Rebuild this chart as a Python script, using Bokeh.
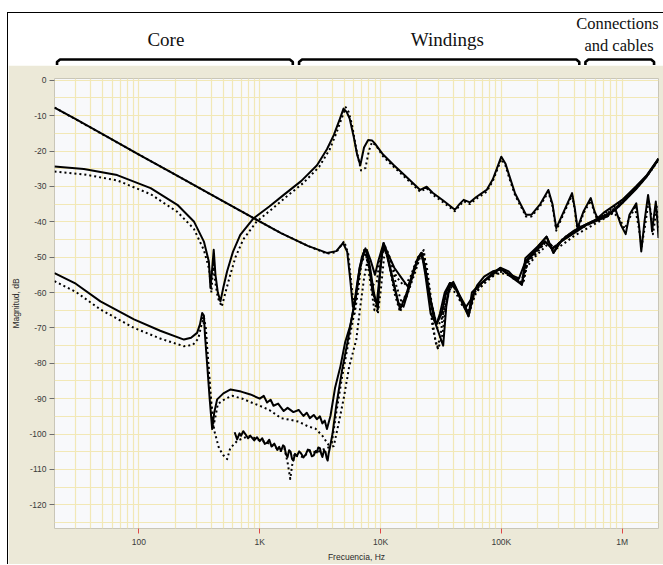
import numpy as np
from bokeh.plotting import figure
from bokeh.layouts import column
from bokeh.models import Range1d, FixedTicker, Label
from bokeh.embed import file_html
from bokeh.resources import INLINE

# ---- measured transfer functions (frequency in Hz, magnitude in dB) ----
a_solid_f = [20, 30, 50, 100, 200, 400, 891, 1500, 2500, 3600, 4300, 4900, 5300, 5600, 5900,
             6200, 6700, 7300, 7700, 8300, 9000, 9600, 10600, 11500, 13000, 15000, 16800, 18500,
             20500, 21900, 23500, 26000, 29000, 32000, 35000, 37500, 41000, 46000, 53500, 60000,
             70000, 85000, 98000, 115000, 130000, 148000, 160000, 190000, 237000, 270000, 300000,
             380000, 500000, 750000, 1000000, 1300000, 1600000, 2000000]
a_solid_db = [-7.7, -11.0, -15.2, -21.0, -26.7, -32.4, -39.0, -43.2, -46.8, -48.8, -48.3, -46.0, -48.5, -56, -64,
              -62, -53, -48.5, -48, -51, -55, -51, -46, -49, -53, -56, -58.3, -55,
              -50, -48.8, -53, -62, -69, -66, -60, -57.3, -58, -62, -66.7, -59.5,
              -57, -54.5, -53, -54, -56, -57.8, -51, -48, -44.2, -48.8, -46,
              -43.7, -41, -38.5, -34.5, -30.5, -27, -22.1]

a_dot_f = [20, 100, 400, 891, 1500, 2500, 3600, 4300, 5000, 5400, 5750, 6100, 6500, 6900, 7500,
           8000, 8600, 9300, 10000, 10800, 11800, 13500, 15500, 17500, 20000, 22200, 24000, 26500,
           29500, 32500, 35500, 38000, 42000, 48000, 54000, 61000, 72000, 88000, 100000, 120000,
           140000, 152000, 165000, 200000, 240000, 275000, 320000, 400000, 550000, 800000,
           1050000, 1350000, 1650000, 2000000]
a_dot_db = [-7.7, -21.0, -32.4, -39.0, -43.2, -46.8, -49.0, -48.6, -45.5, -49, -58, -66, -60, -52, -49,
            -52.5, -58, -57, -49, -46.5, -50, -55.5, -58, -56, -50.5, -48.5, -52, -63,
            -70, -67, -61, -58, -59, -63, -66, -60, -57.5, -55, -53.5, -55,
            -56.5, -57.5, -51.5, -48.5, -45, -48, -46.5, -44, -41.3, -38,
            -34, -30, -26.5, -22.3]

b_solid_f = [20, 35, 66, 125, 208, 285, 345, 379, 391, 400, 416, 430, 450, 473, 500, 537, 600, 690,
             891, 1200, 1580, 2200, 2980, 3600, 4100, 4600, 4940, 5250, 5550, 6000, 6400, 6800,
             7300, 7900, 8500, 9000, 10500, 12900, 16000, 21300, 24100, 27000, 33000, 41300,
             45000, 48800, 55000, 62000, 75600, 85000, 100000, 108000, 116000, 130000, 160000,
             178000, 210000, 245000, 265000, 285000, 330000, 385000, 405000, 427000, 480000,
             550000, 590000, 625000, 700000, 850000, 1000000, 1300000, 1600000, 2000000]
b_solid_db = [-24.4, -25.1, -26.8, -30.5, -35.2, -39.9, -45.6, -51.2, -58.7, -55, -47.9, -55, -60, -62.5, -58.5, -54, -48.5, -43.7,
              -39, -35.7, -32.4, -28.5, -24, -19.5, -15.5, -11, -8, -9, -10.8, -16, -21, -24,
              -19, -16.9, -17, -17.9, -21, -24, -27, -31, -30.1, -31.8, -34, -36.6,
              -35, -33.8, -34.5, -33, -31, -28, -21.6, -23.5, -26.8, -32, -38,
              -38, -35, -31, -35, -41.8, -37, -31.9, -36, -41.8, -37,
              -33.3, -37, -39, -37.5, -35.5, -33.8, -30, -26.8, -22.1]

b_dot_f = [20, 35, 66, 125, 208, 285, 345, 382, 398, 412, 428, 450, 485, 520, 570, 630, 730, 940,
           1250, 1650, 2300, 3100, 3800, 4300, 4800, 5150, 5450, 5800, 6300, 6900, 7500, 8000,
           8500, 9200, 10500, 12900, 16000, 21300, 24100, 27000, 33000, 41300, 45000, 48800,
           55000, 62000, 75600, 85000, 100000, 108000, 116000, 130000, 160000, 178000, 210000,
           245000, 265000, 285000, 330000, 385000, 405000, 427000, 480000, 550000, 590000,
           625000, 700000, 850000, 1000000, 1300000, 1600000, 2000000]
b_dot_db = [-25.8, -26.6, -28.3, -32.2, -37.2, -42.0, -48.0, -53.5, -60, -52, -57, -61.5, -64, -60, -55, -50, -45, -40,
            -36.5, -33, -29, -24.5, -19.5, -15, -10.5, -7.6, -9, -12.5, -19.5, -25.5, -24.8, -20,
            -17.5, -18.5, -21.5, -24.5, -27.5, -31.5, -30.5, -32.3, -34.5, -37, -35.5, -34.2,
            -35, -33.5, -31.5, -28.5, -22.3, -24, -27.5, -32.5, -38.5, -38.5, -35.5,
            -31.5, -35.5, -42.5, -37.5, -32.5, -36.5, -42.5, -37.5, -34, -37.5,
            -39.5, -38, -36, -34.2, -30.3, -27.1, -22.3]

c_solid_f = [20, 30, 48, 91, 150, 236, 270, 303, 320, 334, 345, 352, 368, 385, 404, 420, 444, 500,
             574, 700, 837, 1000, 1080, 1150, 1230, 1300, 1420, 1580, 1700, 1900, 2100, 2300, 2450,
             2600, 2800, 2970, 3150, 3300, 3450, 3600, 3850, 4200, 4660, 5100, 5600, 6200, 6700,
             7300, 7700, 8200, 8800, 9500, 10000, 10600, 11500, 12800, 14500, 16500, 19000,
             21500, 23000, 25000, 28000, 33000, 35000, 37500, 40000, 44000, 50000, 56000, 63000,
             72000, 85000, 100000, 120000, 140000, 155000, 185000, 230000, 260000, 290000,
             350000, 450000, 600000, 750000, 880000, 980000, 1070000, 1150000, 1310000, 1380000,
             1440000, 1530000, 1640000, 1710000, 1770000, 1840000, 1900000, 1960000, 2000000]
c_solid_db = [-54.5, -57.5, -62.5, -67.6, -70.8, -73.3, -72.8, -71.4, -69, -65.8, -66.5, -72, -80.8, -90, -98.6, -94, -90.2, -88.5,
              -87.4, -88, -88.8, -90, -89.2, -91.1, -90.3, -92, -91.4, -93.5, -92.6, -93.8, -93.2, -94.9, -94,
              -95.5, -94.6, -95.8, -95, -97, -96.2, -98.6, -94.9, -87, -80.8, -74, -69.5, -62, -54,
              -48.5, -48, -53, -60, -64.8, -52, -46, -50, -57, -64.8, -60, -53,
              -49, -52, -60, -68, -75, -64, -57.8, -57, -60, -64.5, -62, -58,
              -55.5, -54, -53.5, -55, -56, -52, -49, -45.5, -47.5, -46.5,
              -44, -41.5, -39.5, -38, -36.5, -41, -43.5, -38, -34.8, -41,
              -48.4, -40, -32.4, -37, -42.7, -38, -34.3, -40, -44.6]

c_dot_f = [20, 30, 48, 91, 150, 236, 280, 310, 330, 345, 358, 375, 392, 410, 425, 450, 520, 590,
           720, 840, 1000, 1200, 1500, 1800, 2100, 2500, 2900, 3300, 3700, 3950, 4300, 4800,
           5300, 5900, 6400, 6900, 7300, 7700, 8300, 8900, 9500, 10200, 10800, 11800, 13000,
           14500, 16500, 19000, 21500, 22500, 24000, 26000, 28500, 30000, 32500, 35000, 38000,
           42000, 48000, 54000, 60000, 70000, 85000, 100000, 125000, 145000, 160000, 195000,
           240000, 280000, 330000, 420000, 550000, 700000, 850000, 950000, 1050000, 1150000,
           1280000, 1380000, 1450000, 1550000, 1660000, 1740000, 1800000, 1880000, 1930000, 2000000]
c_dot_db = [-56.8, -59.8, -64.8, -70, -73, -75.2, -74.8, -73, -69, -67, -70, -80, -90, -98, -96, -91.5, -90, -89.2,
            -90, -91, -92, -93.2, -95.5, -96, -96.5, -97.8, -98.5, -100.5, -103, -102.5, -94, -84,
            -76, -68, -60, -52, -48, -50.5, -58, -65, -62, -50, -47, -52, -60,
            -65.5, -61, -55, -49.5, -48.5, -53, -64, -74, -76, -72, -63, -58.5,
            -59, -63, -65, -60, -57, -55, -54.5, -55.5, -57, -53, -49.5,
            -46.5, -47, -45, -42.5, -40.5, -38.8, -37.5, -39, -42, -39,
            -36, -42, -47, -41, -34, -38, -43.5, -39, -35.5, -42]

d_solid_f = [620, 650, 680, 700, 730, 760, 800, 837, 900, 950, 1000, 1050, 1100, 1150, 1200,
             1250, 1320, 1400, 1450, 1500, 1560, 1600, 1650, 1700, 1750, 1800, 1850, 1900, 1960,
             2030, 2120, 2200, 2300, 2400, 2500, 2600, 2700, 2800, 2900, 2970, 3050, 3150, 3230,
             3300, 3400, 3500, 3580, 3650, 3720, 3800, 4000, 4300, 4800, 5400, 6000, 6500, 7000,
             7500, 8000, 8600, 9300, 10000, 10500, 11200, 12500, 14000, 15500, 17500, 20000,
             21900, 23500, 26000, 29000, 31000, 34000, 37500, 43000, 50000, 53500, 57000, 65000,
             80000, 98000, 120000, 148000, 158000, 200000, 237000, 270000, 320000, 400000,
             520000, 700000, 850000, 1000000, 1300000, 1600000, 2000000]
d_solid_db = [-99.5, -101.5, -99.8, -100.5, -99.2, -100, -101.2, -100.5, -101.8, -100.9, -102, -101.2, -102.8, -102.4, -101.6,
              -103.5, -102.7, -104.5, -103.6, -104.8, -103.2, -103.5, -105.8, -106.5, -104.6, -105, -107, -107.5, -105.6,
              -106.2, -104.9, -105.5, -106.6, -105.8, -104.4, -104.6, -106.3, -106, -104.8, -105.2, -103.8, -104, -105.6,
              -106.5, -104.7, -105, -106.8, -107.5, -105.5, -104, -100, -92, -82, -73, -64, -56, -50,
              -47.5, -52, -60, -63, -53, -47, -49, -56, -63, -64, -58, -51,
              -48.8, -55, -66, -69, -66, -60, -57.3, -59.5, -63.5, -66.7, -60, -58,
              -55.5, -53.1, -55.5, -57.8, -50.3, -47, -44.2, -48.8, -45, -42.5,
              -40.5, -38.5, -37, -34.8, -30.8, -27.2, -22.4]

d_dot_f = [334, 352, 375, 395, 420, 460, 500, 537, 570, 652, 750, 837, 950, 1150, 1300, 1490, 1600,
           1700, 1790, 1850, 1950, 2030, 2300, 2600, 2970, 3300, 3700, 4100, 4500, 4940, 5500,
           6300, 6800, 7300, 7800, 8300, 8900, 9500, 10000, 10700, 11300, 12200, 13500, 15000,
           16500, 19000, 21000, 22800, 24500, 27000, 29500, 31500, 34000, 37000, 42000, 48000,
           55000, 62000, 75000, 90000, 105000, 125000, 150000, 165000, 200000, 240000, 275000,
           330000, 430000, 560000, 720000, 900000, 1100000, 1400000, 1700000, 2000000]
d_dot_db = [-67, -70, -80, -90, -99, -104, -106, -107.1, -104, -101.9, -101, -100.5, -101.5, -102.4, -103.5, -104.8, -104,
            -108, -112.7, -109, -105.5, -106.2, -106.5, -104.8, -105.2, -104.5, -103.8, -103.4, -97, -90.2, -81,
            -73.3, -64, -56, -51, -55, -62, -66, -60, -50, -48, -51, -58, -63,
            -60, -54, -50, -48, -56, -70, -75.5, -72, -62, -59, -60, -64,
            -64.5, -60, -56.5, -54.5, -54, -56, -57, -51.5, -48, -45.5, -47.5,
            -44.5, -42, -40, -38, -35.8, -33, -29.5, -26, -22.6]

# ---- test regions marked above the chart ----
region_names = ["Core", "Windings", "Connections", "and cables"]
region_start = [21, 2200, 540000]
region_end = [1950, 480000, 2020000]
region_label_f = [170, 38000, 1000000, 1030000]

# ---- axis ticks ----
x_ticks = [100, 1000, 10000, 100000, 1000000]
x_tick_labels = ["100", "1K", "10K", "100K", "1M"]
y_ticks = [0, -10, -20, -30, -40, -50, -60, -70, -80, -90, -100, -110, -120]
y_tick_labels = ["0", "-10", "-20", "-30", "-40", "-50", "-60", "-70", "-80", "-90", "-100", "-110", "-120"]

TAN = "#ECE9D8"
PLOT_BG = "#F8F9FB"
GRID = "#F2E8B6"
TICK_FONT = "Liberation Sans"

F_MIN, F_MAX = 20, 2e6
W, H_MAIN, H_HEAD = 655, 499, 52
BORDER_L, BORDER_R = 46, 5

x_range = Range1d(F_MIN, F_MAX)

# ---- main plot ----
p = figure(width=W, height=H_MAIN, x_axis_type="log", x_range=x_range,
           y_range=Range1d(-126.7, 0.5), output_backend="svg", toolbar_location=None,
           min_border_left=BORDER_L, min_border_right=BORDER_R, min_border_top=13, min_border_bottom=35)
p.border_fill_color = TAN
p.background_fill_color = PLOT_BG
p.outline_line_color = "#C9C6B8"
p.outline_line_width = 1

# grid: every 1..9 x decade vertically, every 5 dB horizontally
minor_f = [m * 10.0 ** k for k in range(1, 7) for m in range(1, 10)]
p.xgrid.ticker = FixedTicker(ticks=[f for f in minor_f if F_MIN <= f <= F_MAX])
p.ygrid.ticker = FixedTicker(ticks=list(np.arange(-125, 1, 5)))
for g in (p.xgrid, p.ygrid):
    g.grid_line_color = GRID
    g.grid_line_width = 1.2

p.xaxis.ticker = FixedTicker(ticks=x_ticks)
p.xaxis.major_label_overrides = {t: s for t, s in zip(x_ticks, x_tick_labels)}
p.yaxis.ticker = FixedTicker(ticks=y_ticks)
p.yaxis.major_label_overrides = {t: s for t, s in zip(y_ticks, y_tick_labels)}

for ax in (p.xaxis, p.yaxis):
    ax.axis_line_color = None
    ax.minor_tick_line_color = None
    ax.major_tick_in = 0
    ax.major_label_text_font = TICK_FONT
    ax.major_label_text_font_size = "8.5px"
    ax.major_label_text_color = "#3A3A3A"
    ax.axis_label_text_font = TICK_FONT
    ax.axis_label_text_font_size = "8.5px"
    ax.axis_label_text_font_style = "normal"
    ax.axis_label_text_color = "#2A2A2A"

p.xaxis.major_tick_out = 5
p.xaxis.major_tick_line_color = "#E04848"
p.xaxis.major_label_standoff = 3
p.xaxis.axis_label = "Frecuencia, Hz"
p.xaxis.axis_label_standoff = 2

p.yaxis.major_tick_out = 5
p.yaxis.major_tick_line_color = "#6E6E6E"
p.yaxis.major_label_standoff = 3
p.yaxis.axis_label = "Magnitud, dB"
p.yaxis.axis_label_standoff = 5

traces = [
    (d_dot_f, d_dot_db, "2 3"),
    (c_dot_f, c_dot_db, "2 3"),
    (b_dot_f, b_dot_db, "2 3"),
    (a_dot_f, a_dot_db, "2 3"),
    (d_solid_f, d_solid_db, "solid"),
    (c_solid_f, c_solid_db, "solid"),
    (b_solid_f, b_solid_db, "solid"),
    (a_solid_f, a_solid_db, "solid"),
]
for f, db, dash in traces:
    p.line(f, db, line_color="black", line_width=2, line_dash=dash, line_join="round")

# ---- header with region brackets ----
# header frame runs to the right edge; extend its log range by the same px/decade
px_per_decade = (W - BORDER_L - BORDER_R) / np.log10(F_MAX / F_MIN)
head_range = Range1d(F_MIN, F_MAX * 10 ** (BORDER_R / px_per_decade))

h = figure(width=W, height=H_HEAD, x_axis_type="log", x_range=head_range,
           y_range=Range1d(0, H_HEAD), output_backend="svg", toolbar_location=None,
           x_axis_location=None, y_axis_location=None,
           min_border_left=BORDER_L, min_border_right=0, min_border_top=0, min_border_bottom=0)
h.background_fill_color = "white"
h.border_fill_color = "white"
h.outline_line_color = None
h.xgrid.visible = False
h.ygrid.visible = False

corner = 10 ** (3 / px_per_decade)
for f0, f1 in zip(region_start, region_end):
    xs = [f0, f0, f0 * corner, f1 / corner, f1, f1]
    ys = [0, 3.5, 6, 6, 3.5, 0]
    h.line(xs, ys, line_color="black", line_width=2.6, line_join="round")

label_y = [26, 26, 42, 20]
label_size = ["19px", "19px", "16.5px", "16.5px"]
for name, fx, ly, fs in zip(region_names, region_label_f, label_y, label_size):
    h.add_layout(Label(x=fx, y=ly, text=name, text_align="center", text_baseline="middle",
                       text_font="Liberation Serif", text_font_size=fs, text_color="#111111"))

layout = column(h, p, margin=(12, 0, 0, 7),
                styles={"border-left": "1px solid black", "border-top": "1px solid black"})

open("out.html", "w").write(file_html(layout, INLINE))
